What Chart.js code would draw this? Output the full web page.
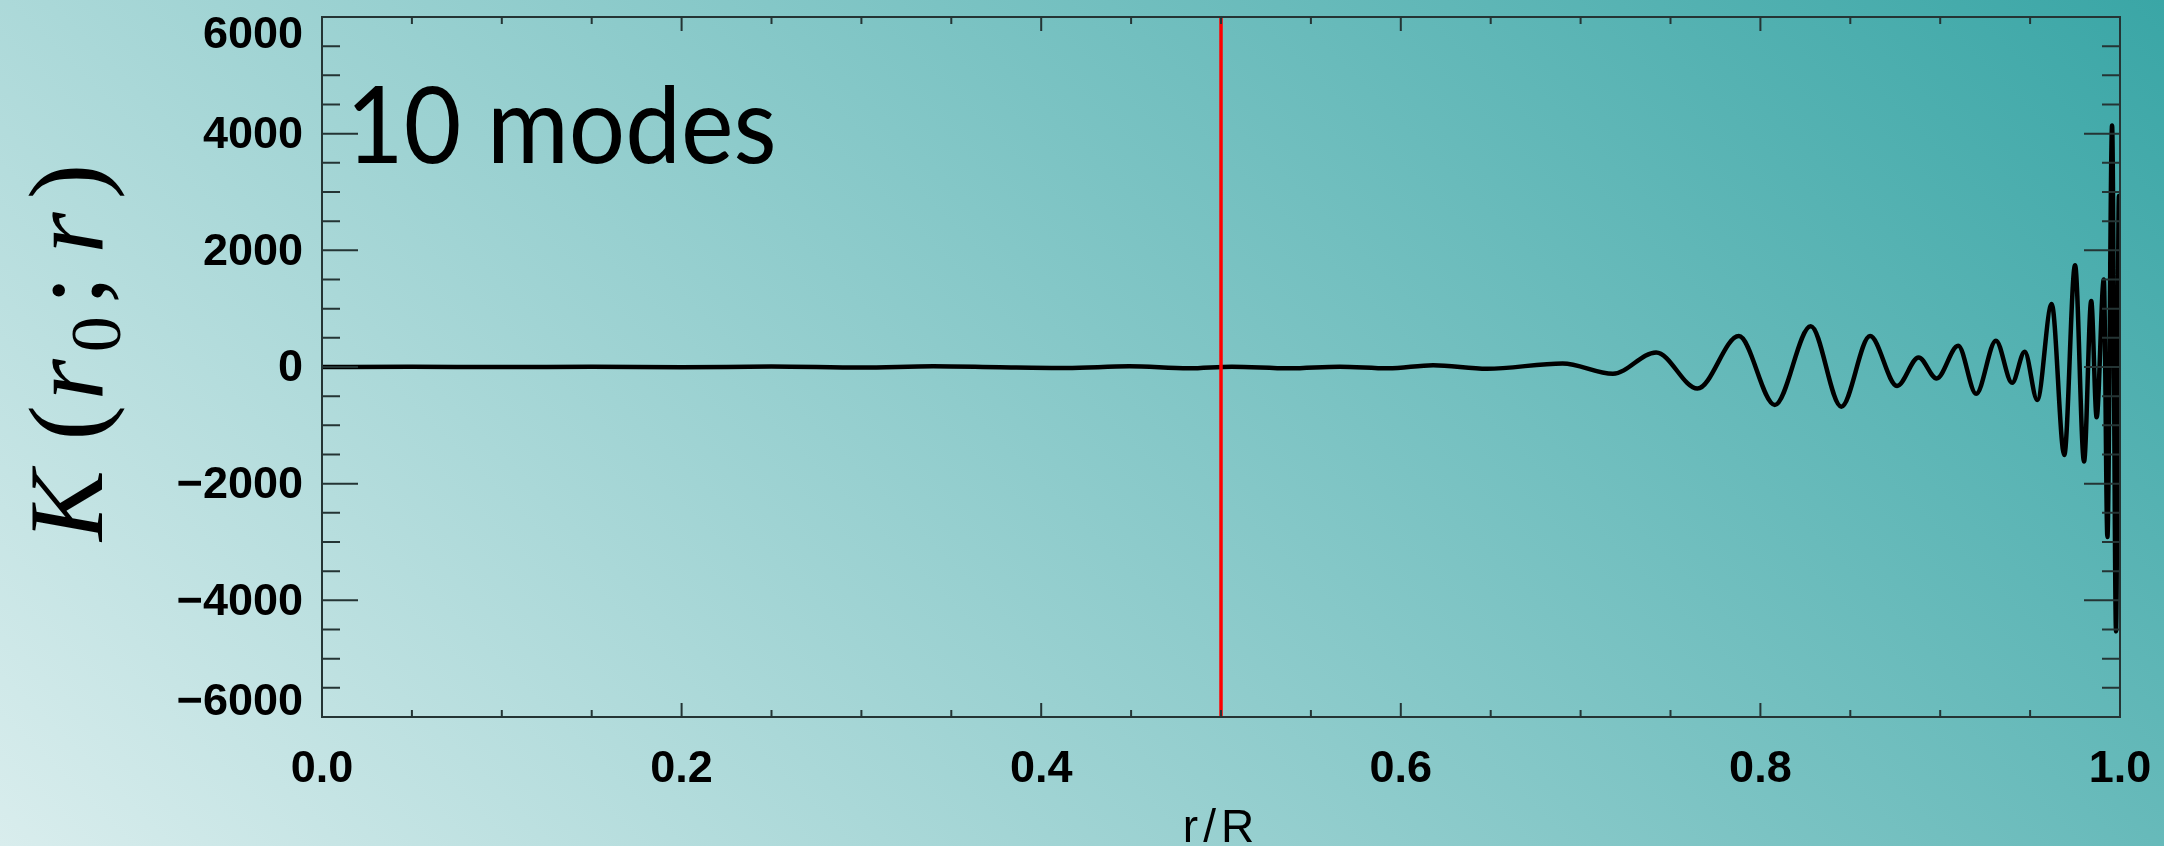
<!DOCTYPE html>
<html>
<head>
<meta charset="utf-8">
<title>K(r0; r) - 10 modes</title>
<script src="https://cdn.jsdelivr.net/npm/chart.js@4.4.1/dist/chart.umd.min.js"></script>
<style>
  html, body { margin: 0; padding: 0; background: #8fcaca; }
  #kernel { display: block; }
</style>
</head>
<body>
<canvas id="kernel" width="2164" height="846"></canvas>
<script>
const radius = [
  0.000, 0.050, 0.100, 0.150, 0.200, 0.250, 0.300, 0.340,
  0.377, 0.414, 0.449, 0.482, 0.506, 0.538, 0.566, 0.593, 0.618, 0.648,
  0.690, 0.718, 0.742, 0.765, 0.788, 0.808, 0.828, 0.845, 0.861, 0.876,
  0.888, 0.898, 0.910, 0.920, 0.931, 0.940, 0.947, 0.954, 0.962, 0.969,
  0.975, 0.980, 0.984, 0.987, 0.991, 0.993, 0.9956, 0.9978, 0.9994, 1.000,
];
const kernel = [
  0, 3, -2, 5, -4, 8, -10, 12,
  -5, -17, 11, -23, 6, -23, 6, -23, 32, -30,
  60, -115, 250, -370, 530, -650, 700, -680, 530, -325,
  165, -195, 365, -460, 450, -270, 262, -565, 1080, -1507,
  1746, -1620, 1130, -860, 1500, -2915, 4140, -4530, 2930, 1030,
];
const targetRadius = 0.5;

const xTicks = [0, 0.2, 0.4, 0.6, 0.8, 1.0];
const xTickLabels = ['0.0', '0.2', '0.4', '0.6', '0.8', '1.0'];
const yTicks = [-6000, -4000, -2000, 0, 2000, 4000, 6000];
const yTickLabels = ['\u22126000', '\u22124000', '\u22122000', '0', '2000', '4000', '6000'];
const xMinorStep = 0.05;
const yMinorStep = 500;

const modesLabel = '10 modes';
const xTitle = 'r/R';

const frameColor = '#243434';

const backgroundPlugin = {
  id: 'slideBackground',
  beforeDraw(chart) {
    const { ctx, width, height } = chart;
    const grad = ctx.createLinearGradient(0, height, 1505, height - 1505);
    grad.addColorStop(0, '#d9eded');
    grad.addColorStop(1, '#3aa6a6');
    ctx.save();
    ctx.fillStyle = grad;
    ctx.fillRect(0, 0, width, height);
    ctx.restore();
  },
};

const axesPlugin = {
  id: 'idlAxes',
  afterDatasetsDraw(chart) {
    const { ctx, chartArea: { left, right, top, bottom }, scales: { x, y } } = chart;
    ctx.save();

    // frame + inward ticks on all four sides
    ctx.strokeStyle = frameColor;
    ctx.lineWidth = 2;
    ctx.strokeRect(left, top, right - left, bottom - top);
    ctx.beginPath();
    const xCount = Math.round((x.max - x.min) / xMinorStep);
    for (let i = 0; i <= xCount; i++) {
      const px = x.getPixelForValue(x.min + i * xMinorStep);
      const len = i % 4 === 0 ? 14 : 7;
      ctx.moveTo(px, bottom);
      ctx.lineTo(px, bottom - len);
      ctx.moveTo(px, top);
      ctx.lineTo(px, top + len);
    }
    const yCount = Math.round((y.max - y.min) / yMinorStep);
    for (let i = 0; i <= yCount; i++) {
      const py = y.getPixelForValue(y.min + i * yMinorStep);
      const len = i % 4 === 0 ? 36 : 18;
      ctx.moveTo(left, py);
      ctx.lineTo(left + len, py);
      ctx.moveTo(right, py);
      ctx.lineTo(right - len, py);
    }
    ctx.stroke();

    // tick labels
    ctx.fillStyle = '#000';
    ctx.font = 'bold 45px "Liberation Sans"';
    ctx.textAlign = 'right';
    ctx.textBaseline = 'middle';
    yTicks.forEach((v, i) => {
      const py = Math.min(Math.max(y.getPixelForValue(v) + 2, top + 19), bottom - 14);
      ctx.fillText(yTickLabels[i], left - 19, py);
    });
    ctx.textAlign = 'center';
    ctx.textBaseline = 'alphabetic';
    xTicks.forEach((v, i) => {
      ctx.fillText(xTickLabels[i], x.getPixelForValue(v), bottom + 65);
    });

    // x title
    ctx.font = '46px "Liberation Sans"';
    ctx.letterSpacing = '5px';
    ctx.fillText(xTitle, (left + right) / 2, 842);
    ctx.letterSpacing = '0px';

    // big label inside the plot, a bit narrower than Lato
    ctx.save();
    ctx.textAlign = 'left';
    ctx.font = '107px Lato';
    ctx.translate(left + 24, 163);
    ctx.scale(0.93, 1);
    ctx.fillText(modesLabel, 0, 0);
    ctx.restore();

    // y title K(r_0; r), rotated
    const parts = [
      { text: 'K', font: 'italic 106px "Liberation Serif"', shift: 0, gap: 12 },
      { text: '(', font: '106px "Liberation Serif"', shift: 0, gap: 8 },
      { text: 'r', font: 'italic 106px "Liberation Serif"', shift: 0, gap: 4 },
      { text: '0', font: '72px "Liberation Serif"', shift: 18, gap: 8 },
      { text: ';', font: '106px "Liberation Serif"', shift: 0, gap: 28 },
      { text: 'r', font: 'italic 106px "Liberation Serif"', shift: 0, gap: 10 },
      { text: ')', font: '106px "Liberation Serif"', shift: 0, gap: 0 },
    ];
    const widths = parts.map((p) => {
      ctx.font = p.font;
      return ctx.measureText(p.text).width + p.gap;
    });
    const total = widths.reduce((a, b) => a + b, 0);
    ctx.translate(102, 326);
    ctx.rotate(-Math.PI / 2);
    let cursor = -total / 2;
    parts.forEach((p, i) => {
      ctx.font = p.font;
      ctx.fillText(p.text, cursor, p.shift);
      cursor += widths[i];
    });

    ctx.restore();
  },
};

new Chart(document.getElementById('kernel'), {
  type: 'line',
  data: {
    datasets: [
      {
        label: 'r0',
        data: [{ x: targetRadius, y: yTicks[0] }, { x: targetRadius, y: yTicks[yTicks.length - 1] }],
        borderColor: '#ff0000',
        borderWidth: 3.5,
        pointRadius: 0,
        order: 0,
      },
      {
        label: 'K(r0; r)',
        data: radius.map((r, i) => ({ x: r, y: kernel[i] })),
        borderColor: '#000000',
        borderWidth: 4.5,
        borderJoinStyle: 'round',
        pointRadius: 0,
        cubicInterpolationMode: 'monotone',
        order: 1,
      },
    ],
  },
  options: {
    responsive: false,
    animation: false,
    devicePixelRatio: 1,
    layout: { padding: { top: 17, right: 44, left: 0, bottom: 0 } },
    plugins: { legend: { display: false }, tooltip: { enabled: false } },
    scales: {
      x: {
        type: 'linear',
        min: 0,
        max: 1,
        ticks: { display: false },
        grid: { display: false },
        border: { display: false },
        afterFit: (scale) => { scale.height = 129; },
      },
      y: {
        type: 'linear',
        min: -6000,
        max: 6000,
        ticks: { display: false },
        grid: { display: false },
        border: { display: false },
        afterFit: (scale) => { scale.width = 322; },
      },
    },
  },
  plugins: [backgroundPlugin, axesPlugin],
});
</script>
</body>
</html>
